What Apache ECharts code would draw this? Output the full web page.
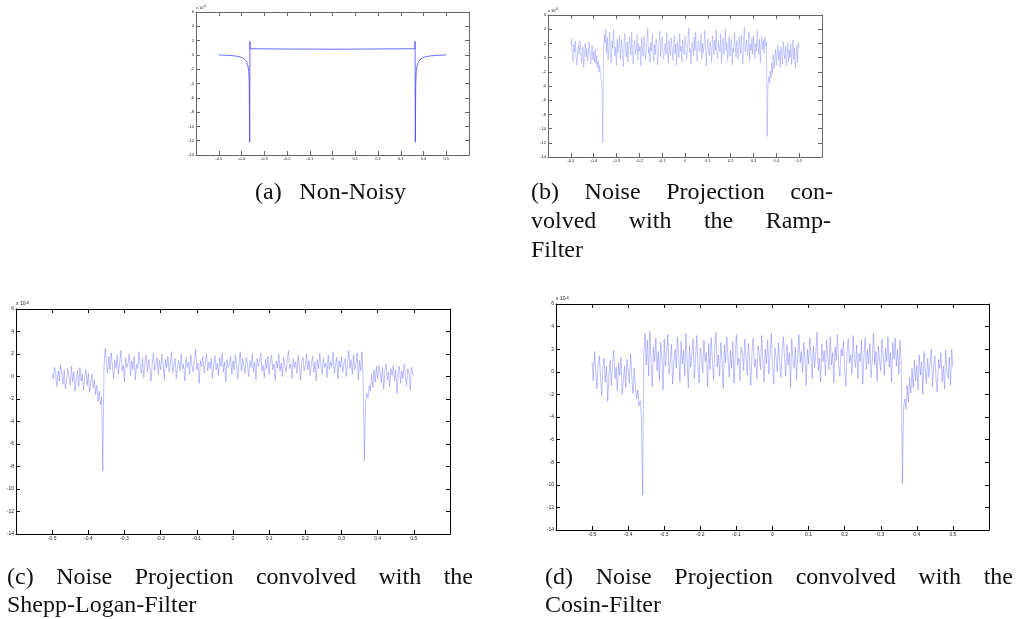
<!DOCTYPE html>
<html>
<head>
<meta charset="utf-8">
<title>Projections</title>
<script src="https://cdn.jsdelivr.net/npm/echarts@6/dist/echarts.min.js"></script>
<style>
  html, body { margin: 0; padding: 0; background: #fff; }
  #chart { width: 1019px; height: 619px; }
</style>
</head>
<body>
<div id="chart"></div>
<script>
// axis ticks shared by all four panels
const xTicks = [-0.5, -0.4, -0.3, -0.2, -0.1, 0, 0.1, 0.2, 0.3, 0.4, 0.5];
const yTicks = [-14, -12, -10, -8, -6, -4, -2, 0, 2, 4, 6];

// (a) non-noisy projection
const xNonNoisy = [-0.5, -0.46, -0.43, -0.41, -0.395, -0.385, -0.378, -0.372, -0.368, -0.366, -0.364, -0.363, -0.362,
  -0.3, -0.2, -0.1, 0, 0.1, 0.2, 0.3,
  0.362, 0.363, 0.364, 0.366, 0.368, 0.372, 0.378, 0.385, 0.395, 0.41, 0.43, 0.46, 0.5];
const yNonNoisy = [0, -0.06, -0.14, -0.25, -0.42, -0.65, -0.95, -1.5, -2.3, -4.0, -12.2, 1.9, 0.86,
  0.85, 0.82, 0.81, 0.8, 0.81, 0.83, 0.85,
  0.86, 1.9, -12.2, -4.0, -2.3, -1.5, -0.95, -0.65, -0.42, -0.25, -0.14, -0.06, 0];

// noisy projections: one value per sample, 301 samples from -0.5 to 0.5
const sampleStart = -0.5;
const sampleCount = 300;

// (b) ramp filter
const yRamp = [
  1.6, 2.7, 0.4, -0.6, 1.9, 0.8, 2.3, -0.2, -1.1, 0.9,
  1.8, 0.5, 2.4, 1.2, -0.8, 0.3, 1.5, -1.4, 0.7, 2.0,
  0.1, 1.3, -0.5, 0.6, 2.2, 1.0, -0.9, 0.4, 1.7, -0.3,
  0.8, -0.6, 1.2, -1.0, 0.3, -1.4, -0.5, -2.0, -1.1, -2.6,
  -3.1, -4.6, -12.0, 1.0, 3.2, 2.1, 4.0, 0.6, 2.8, -0.4,
  1.7, 3.5, 0.9, -0.8, 2.4, 1.3, 3.9, 2.0, 0.2, 1.5,
  -1.1, 2.6, 0.7, 1.8, 3.1, -0.2, 1.2, 2.5, 0.4, -1.3,
  1.9, 3.4, 1.0, 0.1, 2.2, -0.6, 1.4, 2.9, 1.6, 0.3,
  3.6, 0.8, -0.9, 1.7, 2.4, 0.5, 1.1, 3.2, -0.4, 2.0,
  0.9, 1.5, -1.2, 2.7, 1.3, 0.2, 3.0, 1.8, -0.3, 1.0,
  2.5, 4.1, 0.6, 1.4, -0.7, 2.1, 0.9, 3.3, 1.2, -0.5,
  1.8, 0.4, 2.6, 1.5, -1.0, 0.7, 2.3, 3.7, 0.1, 1.6,
  2.9, 0.8, -0.2, 1.3, 2.0, 0.5, 3.5, 1.1, -0.8, 2.4,
  1.0, 0.3, 2.8, 1.7, -0.4, 1.2, 3.1, 0.6, 1.9, -1.1,
  2.2, 1.4, 0.0, 3.4, 0.9, 1.6, -0.6, 2.5, 1.1, 0.4,
  3.0, 1.8, -0.3, 0.8, 2.6, 4.2, 0.7, 1.3, -0.9, 2.1,
  1.5, 0.2, 2.9, 1.0, 3.6, 0.5, -0.5, 1.9, 2.4, 0.8,
  1.2, 3.3, -0.2, 2.0, 0.6, 1.7, 3.8, 1.1, -1.2, 1.4,
  2.7, 0.9, 0.3, 2.2, 1.5, -0.7, 3.1, 1.9, 0.4, 2.5,
  1.0, 3.9, 0.6, -0.1, 2.3, 1.3, 0.8, 3.4, -0.8, 1.7,
  2.8, 0.5, 1.6, 4.0, 0.9, 2.1, -0.4, 1.2, 3.0, 0.2,
  1.9, 2.6, -1.0, 1.4, 0.7, 3.5, 1.8, 0.1, 2.4, 1.1,
  -0.3, 2.9, 1.5, 0.6, 3.2, 1.0, -0.9, 2.2, 4.3, 0.8,
  1.7, 2.5, 0.3, 1.2, 3.6, -0.5, 1.9, 1.0, 2.8, 0.4,
  3.1, 1.4, -0.2, 2.0, 0.9, 3.8, 1.6, 0.5, 2.6, -0.7,
  1.8, 3.0, 1.1, 2.4, 0.6, 2.9, 1.5, 2.2, -11.1, -4.0,
  -2.7, -3.6, -1.9, -2.9, -0.8, -2.2, 0.4, -1.5, -0.3, 1.2,
  -1.1, 0.6, 1.8, -0.4, 0.9, -1.4, 1.5, 0.2, -0.9, 2.3,
  0.7, -0.2, 1.6, -1.2, 0.4, 2.0, -0.6, 1.1, 0.0, 1.9,
  -1.0, 0.8, 2.5, -0.3, 1.3, -1.5, 0.5, 1.7, -0.7, 2.1,
  1.4
];

// (c) Shepp-Logan filter
const ySheppLogan = [
  0.3, -0.2, 0.8, 0.1, -0.9, 0.5, -0.4, 1.0, 0.2, -0.7,
  0.6, -1.1, -0.3, 0.7, 0.0, -0.8, 0.9, -0.5, 0.4, -1.3,
  -0.2, 0.5, -0.9, 0.8, -0.4, 0.2, -1.2, -0.1, 0.6, -0.8,
  0.3, -1.4, -0.5, 0.2, -1.0, -0.3, -1.6, -0.8, -2.2, -1.3,
  -2.5, -1.8, -8.4, 0.9, 2.5, 1.2, 0.3, 1.8, 0.6, 2.1,
  0.9, -0.2, 1.5, 0.7, 1.9, 0.2, 1.3, 2.3, 0.5, 1.0,
  -0.5, 1.6, 0.8, 1.2, 2.0, 0.1, 1.4, 0.6, 1.8, -0.3,
  1.1, 0.7, 2.2, 0.9, 0.3, 1.6, -0.1, 1.3, 1.9, 0.4,
  1.5, 0.8, -0.4, 1.2, 2.1, 0.5, 1.0, 1.7, 0.2, 1.4,
  0.6, 2.0, 1.1, -0.3, 1.5, 0.8, 1.8, 0.4, 1.2, 2.2,
  0.3, 1.0, 1.6, -0.2, 0.9, 1.4, 0.5, 2.0, 0.7, 1.1,
  -0.4, 1.7, 0.8, 1.3, 0.2, 1.9, 1.0, 0.4, 1.5, 2.4,
  0.6, 1.2, -0.6, 1.4, 0.9, 1.8, 0.3, 1.1, 2.0, 0.5,
  1.3, 0.7, 1.6, -0.1, 1.0, 1.9, 0.6, 1.2, 0.1, 1.7,
  0.9, 2.1, 0.4, 1.3, -0.5, 1.5, 0.8, 1.1, 1.8, 0.2,
  1.4, 0.6, 1.9, 1.0, -0.2, 1.2, 2.2, 0.5, 1.6, 0.9,
  0.3, 1.7, 1.1, 0.0, 1.4, 0.8, 2.0, 0.4, 1.3, -0.3,
  1.6, 0.9, 1.2, 2.1, 0.5, 1.0, -0.1, 1.5, 0.7, 1.8,
  0.2, 1.3, 1.9, 0.6, 1.1, -0.4, 1.4, 0.8, 2.0, 0.5,
  1.2, 0.0, 1.7, 1.0, 0.4, 1.5, 2.3, 0.7, 1.1, -0.2,
  1.6, 0.8, 1.3, 0.3, 1.9, 0.9, -0.3, 1.2, 1.7, 0.5,
  1.0, 2.0, 0.6, 1.4, 0.1, 1.1, 1.8, 0.4, 1.3, -0.4,
  1.5, 0.7, 2.1, 1.0, 0.2, 1.6, 0.8, 1.2, -0.1, 1.9,
  0.6, 1.3, 0.9, 2.2, 0.3, 1.0, 1.7, -0.2, 1.4, 0.8,
  1.8, 0.4, 1.1, 1.6, 0.0, 1.3, 2.3, 0.7, 1.5, 0.2,
  1.9, 0.6, 1.2, 2.1, -0.3, 1.4, 0.5, 2.2, -0.4, -7.5,
  -2.2, -1.5, -1.9, -0.8, -1.3, 0.2, -1.0, 0.6, -0.5, 0.9,
  -0.2, 1.0, 0.3, -0.6, 0.8, -1.1, 0.5, 1.1, -0.3, 0.4,
  -0.9, 0.7, 0.1, 1.0, -0.4, 0.6, -1.5, 0.3, 0.9, -0.6,
  0.5, -0.2, 1.1, 0.0, -0.8, 0.7, 0.2, -1.2, 0.8, 0.3,
  0.1
];

// (d) cosine filter
const yCosine = [
  0.9, -0.8, 1.8, 0.2, -1.5, 0.6, 1.4, -0.4, -2.1, 0.3,
  1.2, -0.9, 0.5, -2.6, -0.2, 1.0, -1.2, 0.7, 1.9, -0.6,
  0.4, -1.7, 0.8, -0.3, 1.3, -2.0, -0.7, 0.5, -1.4, 1.1,
  0.0, -1.0, 1.6, -0.5, -1.9, 0.3, -1.2, -2.4, -1.6, -3.0,
  -2.6, -4.0, -10.9, 1.5, 3.4, 0.6, 2.8, -0.4, 3.6, 1.2,
  -1.3, 2.2, 0.9, 3.0, 0.1, 1.8, -0.8, 2.6, 1.4, -1.6,
  2.9, 0.5, 1.7, 3.3, -0.2, 1.1, 2.4, -1.1, 0.8, 2.0,
  0.3, 3.1, 1.5, -0.9, 2.7, 0.7, 1.9, -0.3, 3.4, 1.0,
  -1.4, 2.3, 0.4, 1.6, 2.9, -0.6, 1.2, 3.2, 0.6, -1.0,
  2.1, 1.3, -0.1, 2.8, 0.9, 1.7, -1.3, 2.5, 0.2, 3.0,
  1.1, -0.7, 2.0, 3.5, 0.4, 1.5, -0.4, 2.6, 1.0, -1.5,
  2.4, 0.8, 3.1, 1.3, -0.5, 1.9, 0.3, 2.7, -1.0, 1.6,
  3.3, 0.6, 1.2, -0.8, 2.2, 1.7, 0.1, 2.9, 1.4, -0.3,
  2.5, 0.9, -1.2, 1.8, 3.0, 0.4, 1.1, -0.6, 2.3, 1.5,
  0.2, 3.2, 1.0, -0.9, 2.0, 0.7, 2.8, -0.2, 1.6, 3.4,
  0.5, -1.1, 2.1, 1.3, 0.0, 2.6, 0.8, -0.5, 1.9, 3.1,
  1.2, -0.4, 2.4, 0.6, 1.7, -1.4, 2.9, 1.0, 0.3, 2.2,
  -0.7, 1.5, 3.3, 0.8, 1.8, -0.1, 2.6, 1.1, -1.2, 2.0,
  0.7, 3.0, 1.4, -0.6, 2.3, 0.4, 1.6, 3.5, 0.1, 1.2,
  -0.9, 2.5, 0.9, 1.9, -0.3, 2.8, 1.3, 0.2, 3.1, 0.6,
  1.7, -1.0, 2.2, 1.0, 3.3, 0.5, -0.4, 2.0, 1.4, 2.7,
  0.3, -1.3, 1.8, 2.9, 0.8, 1.5, -0.2, 3.2, 1.1, 0.4,
  2.4, -0.6, 1.6, 0.9, 2.8, -1.1, 1.3, 3.0, 0.2, 1.9,
  0.7, 2.5, -0.5, 1.2, 3.4, 0.6, 1.8, -0.8, 2.3, 1.0,
  0.1, 2.9, 1.4, -0.3, 2.1, 0.9, 3.1, 0.4, 1.7, -0.9,
  2.6, 1.1, 3.0, 0.5, 2.0, -0.2, 2.8, 0.9, -9.9, -3.1,
  -2.4, -3.3, -1.2, -2.7, -0.5, -1.9, 0.3, -1.4, 1.0, -0.8,
  0.6, -1.6, 1.5, -0.3, 0.9, -2.0, 1.8, 0.2, -1.0, 1.2,
  -0.5, 0.7, 2.0, -1.3, 0.4, 1.4, -0.7, -1.8, 1.1, 0.3,
  1.7, -0.9, 0.5, -1.5, 1.9, 0.0, -0.6, 1.3, -1.2, 2.0,
  0.4
];

function samplePairs(ys) {
  return ys.map((y, i) => [+(sampleStart + i / sampleCount).toFixed(4), y]);
}

// pixel boxes of the four plots
const panels = [
  { box: { left: 196, top: 12, width: 273, height: 143 }, axisColor: '#666', fontSize: 4,
    data: xNonNoisy.map((x, i) => [x, yNonNoisy[i]]), lineColor: 'rgba(60,60,255,0.85)', lineWidth: 0.9 },
  { box: { left: 548, top: 15, width: 274, height: 142 }, axisColor: '#666', fontSize: 4,
    data: samplePairs(yRamp), lineColor: 'rgba(90,90,255,0.5)', lineWidth: 0.6 },
  { box: { left: 16, top: 309, width: 434, height: 225 }, axisColor: '#000', fontSize: 5,
    data: samplePairs(ySheppLogan), lineColor: 'rgba(90,90,255,0.55)', lineWidth: 0.7 },
  { box: { left: 556, top: 304, width: 433, height: 226 }, axisColor: '#000', fontSize: 5,
    data: samplePairs(yCosine), lineColor: 'rgba(90,90,255,0.55)', lineWidth: 0.7 }
];

const grids = [];
const xAxes = [];
const yAxes = [];
const series = [];
const graphics = [];

panels.forEach((p, i) => {
  grids.push(Object.assign({ containLabel: false, outerBoundsMode: 'none' }, p.box));
  const line = { show: true, onZero: false, lineStyle: { color: p.axisColor, width: 1 } };
  const tick = { show: true, inside: true, length: 4, lineStyle: { color: p.axisColor } };
  const baseX = { type: 'value', gridIndex: i, min: -0.6, max: 0.6, interval: 0.1,
    axisLine: line, axisTick: tick, splitLine: { show: false } };
  const baseY = { type: 'value', gridIndex: i, min: -14, max: 6, interval: 2,
    axisLine: line, axisTick: tick, splitLine: { show: false } };
  xAxes.push(Object.assign({}, baseX, {
    position: 'bottom',
    axisLabel: {
      margin: 2, fontSize: p.fontSize, color: '#222', fontFamily: 'Liberation Sans',
      formatter: v => {
        const r = Math.round(v * 10) / 10;
        return xTicks.includes(r) ? String(r) : '';
      }
    }
  }));
  xAxes.push(Object.assign({}, baseX, { position: 'top', axisLabel: { show: false } }));
  yAxes.push(Object.assign({}, baseY, {
    position: 'left',
    axisLabel: {
      margin: 2, fontSize: p.fontSize, color: '#222', fontFamily: 'Liberation Sans',
      formatter: v => (yTicks.includes(v) ? String(v) : '')
    }
  }));
  yAxes.push(Object.assign({}, baseY, { position: 'right', axisLabel: { show: false } }));
  series.push({
    type: 'line', xAxisIndex: 2 * i, yAxisIndex: 2 * i,
    data: p.data, showSymbol: false, symbol: 'none', animation: false,
    lineStyle: { color: p.lineColor, width: p.lineWidth }
  });
  // x 10^-6 exponent label above the top-left corner
  graphics.push({
    type: 'text', left: p.box.left, top: p.box.top - p.fontSize - 3,
    style: {
      text: '{b|x 10}{s|-6}',
      rich: {
        b: { fontSize: p.fontSize, fill: '#222', fontFamily: 'Liberation Sans' },
        s: { fontSize: p.fontSize - 1, fill: '#222', fontFamily: 'Liberation Sans', verticalAlign: 'top', padding: [0, 0, 2, 0] }
      }
    }
  });
});

// captions, set as in the paper: justified lines spread between x0 and x1
const captionFont = '24px "Liberation Serif", "DejaVu Serif", serif';
const captionLines = [
  // [words, x0, x1 (null = left aligned), baseline]
  [['(a)', 'Non-Noisy'], 255, 406, 201],
  [['(b)', 'Noise', 'Projection', 'con-'], 531, 833, 201],
  [['volved', 'with', 'the', 'Ramp-'], 531, 831, 230],
  [['Filter'], 531, null, 259],
  [['(c)', 'Noise', 'Projection', 'convolved', 'with', 'the'], 7, 473, 586],
  [['Shepp-Logan-Filter'], 7, null, 614],
  [['(d)', 'Noise', 'Projection', 'convolved', 'with', 'the'], 545, 1013, 586],
  [['Cosin-Filter'], 545, null, 614]
];
const measureCtx = document.createElement('canvas').getContext('2d');
measureCtx.font = captionFont;
captionLines.forEach(([words, x0, x1, baseline]) => {
  const widths = words.map(w => measureCtx.measureText(w).width);
  const total = widths.reduce((a, b) => a + b, 0);
  const gap = (x1 === null || words.length < 2) ? 6 : (x1 - x0 - total) / (words.length - 1);
  let x = x0;
  words.forEach((w, k) => {
    graphics.push({
      type: 'text', x: x, y: baseline - 8,
      style: { text: w, font: captionFont, fill: '#111', textAlign: 'left', textVerticalAlign: 'middle', verticalAlign: 'middle' }
    });
    x += widths[k] + gap;
  });
});

const chart = echarts.init(document.getElementById('chart'), null, { renderer: 'canvas' });
chart.setOption({
  animation: false,
  backgroundColor: '#fff',
  grid: grids,
  xAxis: xAxes,
  yAxis: yAxes,
  series: series,
  graphic: { elements: graphics }
});
window.addEventListener('resize', () => chart.resize());
</script>
</body>
</html>
